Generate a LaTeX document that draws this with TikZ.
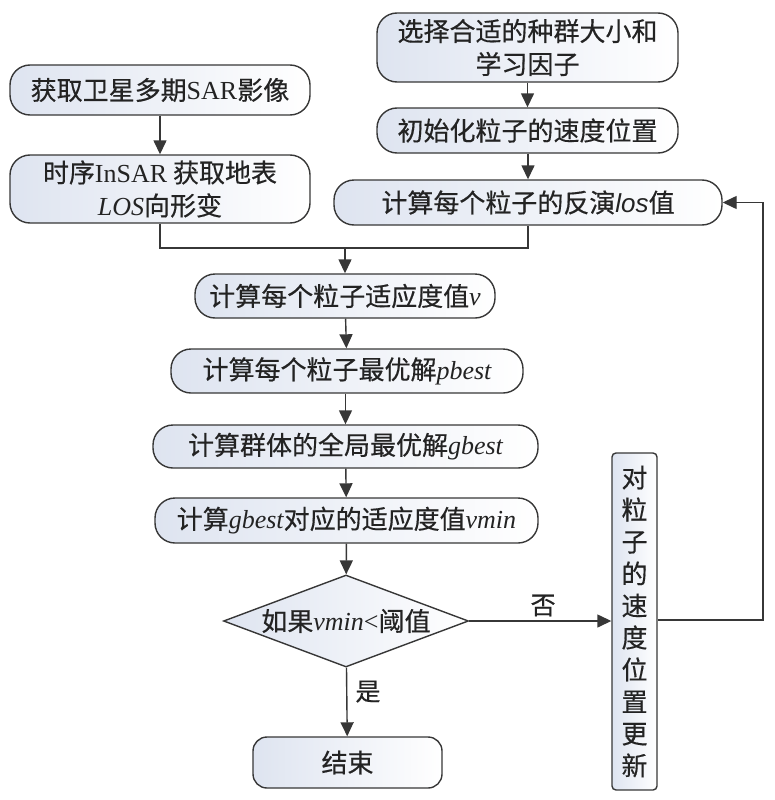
\documentclass[tikz,border=0pt]{standalone}
\usepackage{fontspec}
\setmainfont[FakeBold=0.4]{Noto Sans CJK SC}
\newfontfamily\latf{Liberation Serif}
\newcommand{\lt}[1]{{\latf #1}}
\newcommand{\li}[1]{{\latf\itshape #1}}
\usetikzlibrary{arrows.meta,shapes.geometric}
\definecolor{linec}{RGB}{55,55,55}
\definecolor{textc}{RGB}{35,35,35}
\definecolor{shadec}{RGB}{222,228,240}
\tikzset{
  box/.style={draw=linec, line width=1.4pt, rounded corners=20pt,
    left color=shadec, right color=white, inner sep=0pt, align=center,
    font=\fontsize{26}{33}\selectfont, text=textc},
  conn/.style={draw=linec, line width=1.4pt},
  arr/.style={conn, -{Triangle[length=14pt,width=13pt]}},
  lbl/.style={font=\fontsize{25}{28}\selectfont, text=textc, inner sep=0pt}
}
\begin{document}
\begin{tikzpicture}[x=1pt,y=-1pt]
\useasboundingbox (0,0) rectangle (774,800);
\node[box, minimum width=300pt, minimum height=50pt] (A) at (160,90) {获取卫星多期\lt{SAR}影像};
\node[box, minimum width=300pt, minimum height=68pt] (B) at (160,189) {时序\lt{InSAR} 获取地表\\\li{LOS}向形变};
\node[box, minimum width=301pt, minimum height=69pt] (C) at (527.5,47.5) {选择合适的种群大小和\\学习因子};
\node[box, minimum width=301pt, minimum height=45pt] (D) at (527.5,130.5) {初始化粒子的速度位置};
\node[box, minimum width=388pt, minimum height=45pt] (E) at (528,202.5) {计算每个粒子的反演{\itshape\fontspec{Liberation Sans}los}值};
\node[box, minimum width=300pt, minimum height=44pt] (F) at (345,296) {计算每个粒子适应度值\li{v}};
\node[box, minimum width=352pt, minimum height=44pt] (G) at (347,371) {计算每个粒子最优解\li{pbest}};
\node[box, minimum width=385pt, minimum height=43pt] (H) at (345.5,446.5) {计算群体的全局最优解\li{gbest}};
\node[box, minimum width=383pt, minimum height=45pt] (I) at (346.5,520.5) {计算\li{gbest}对应的适应度值\li{vmin}};
\node[box, shape=diamond, rounded corners=0pt, minimum width=245pt, minimum height=92pt] (J) at (346,621) {\makebox[0pt]{如果\li{vmin}\lt{<}阈值}};
\node[box, rounded corners=14pt, minimum width=189pt, minimum height=51pt] (K) at (347.5,762.5) {结束};
\node[box, rounded corners=4pt, minimum width=45pt, minimum height=337pt, font=\fontsize{26}{32}\selectfont] (R) at (634.5,621.5) {对\\粒\\子\\的\\速\\度\\位\\置\\更\\新};
\coordinate (j1) at (160,248);
\coordinate (j2) at (528,248);
\coordinate (jm) at (345,248);
\coordinate (fb) at (763,620);
\draw[arr] (A) -- (B);
\draw[arr] (C) -- (D);
\draw[arr] (D.south -| E) -- (E);
\draw[conn] (B.south) -- (j1) -- (j2) -- (E.south);
\draw[arr] (jm) -- (F);
\draw[arr] (F) -- (G);
\draw[arr] (G.south -| H) -- (H);
\draw[arr] (H) -- (I);
\draw[arr] (I) -- (J);
\draw[arr] (J) -- (K) node[lbl, pos=0.35, right=8pt] {是};
\draw[arr] (J.east) -- (R.west |- J.east) node[lbl, pos=0.52, above=4pt] {否};
\draw[arr] (R.east |- fb) -- (fb) -- (fb |- E.east) -- (E.east);
\end{tikzpicture}
\end{document}
